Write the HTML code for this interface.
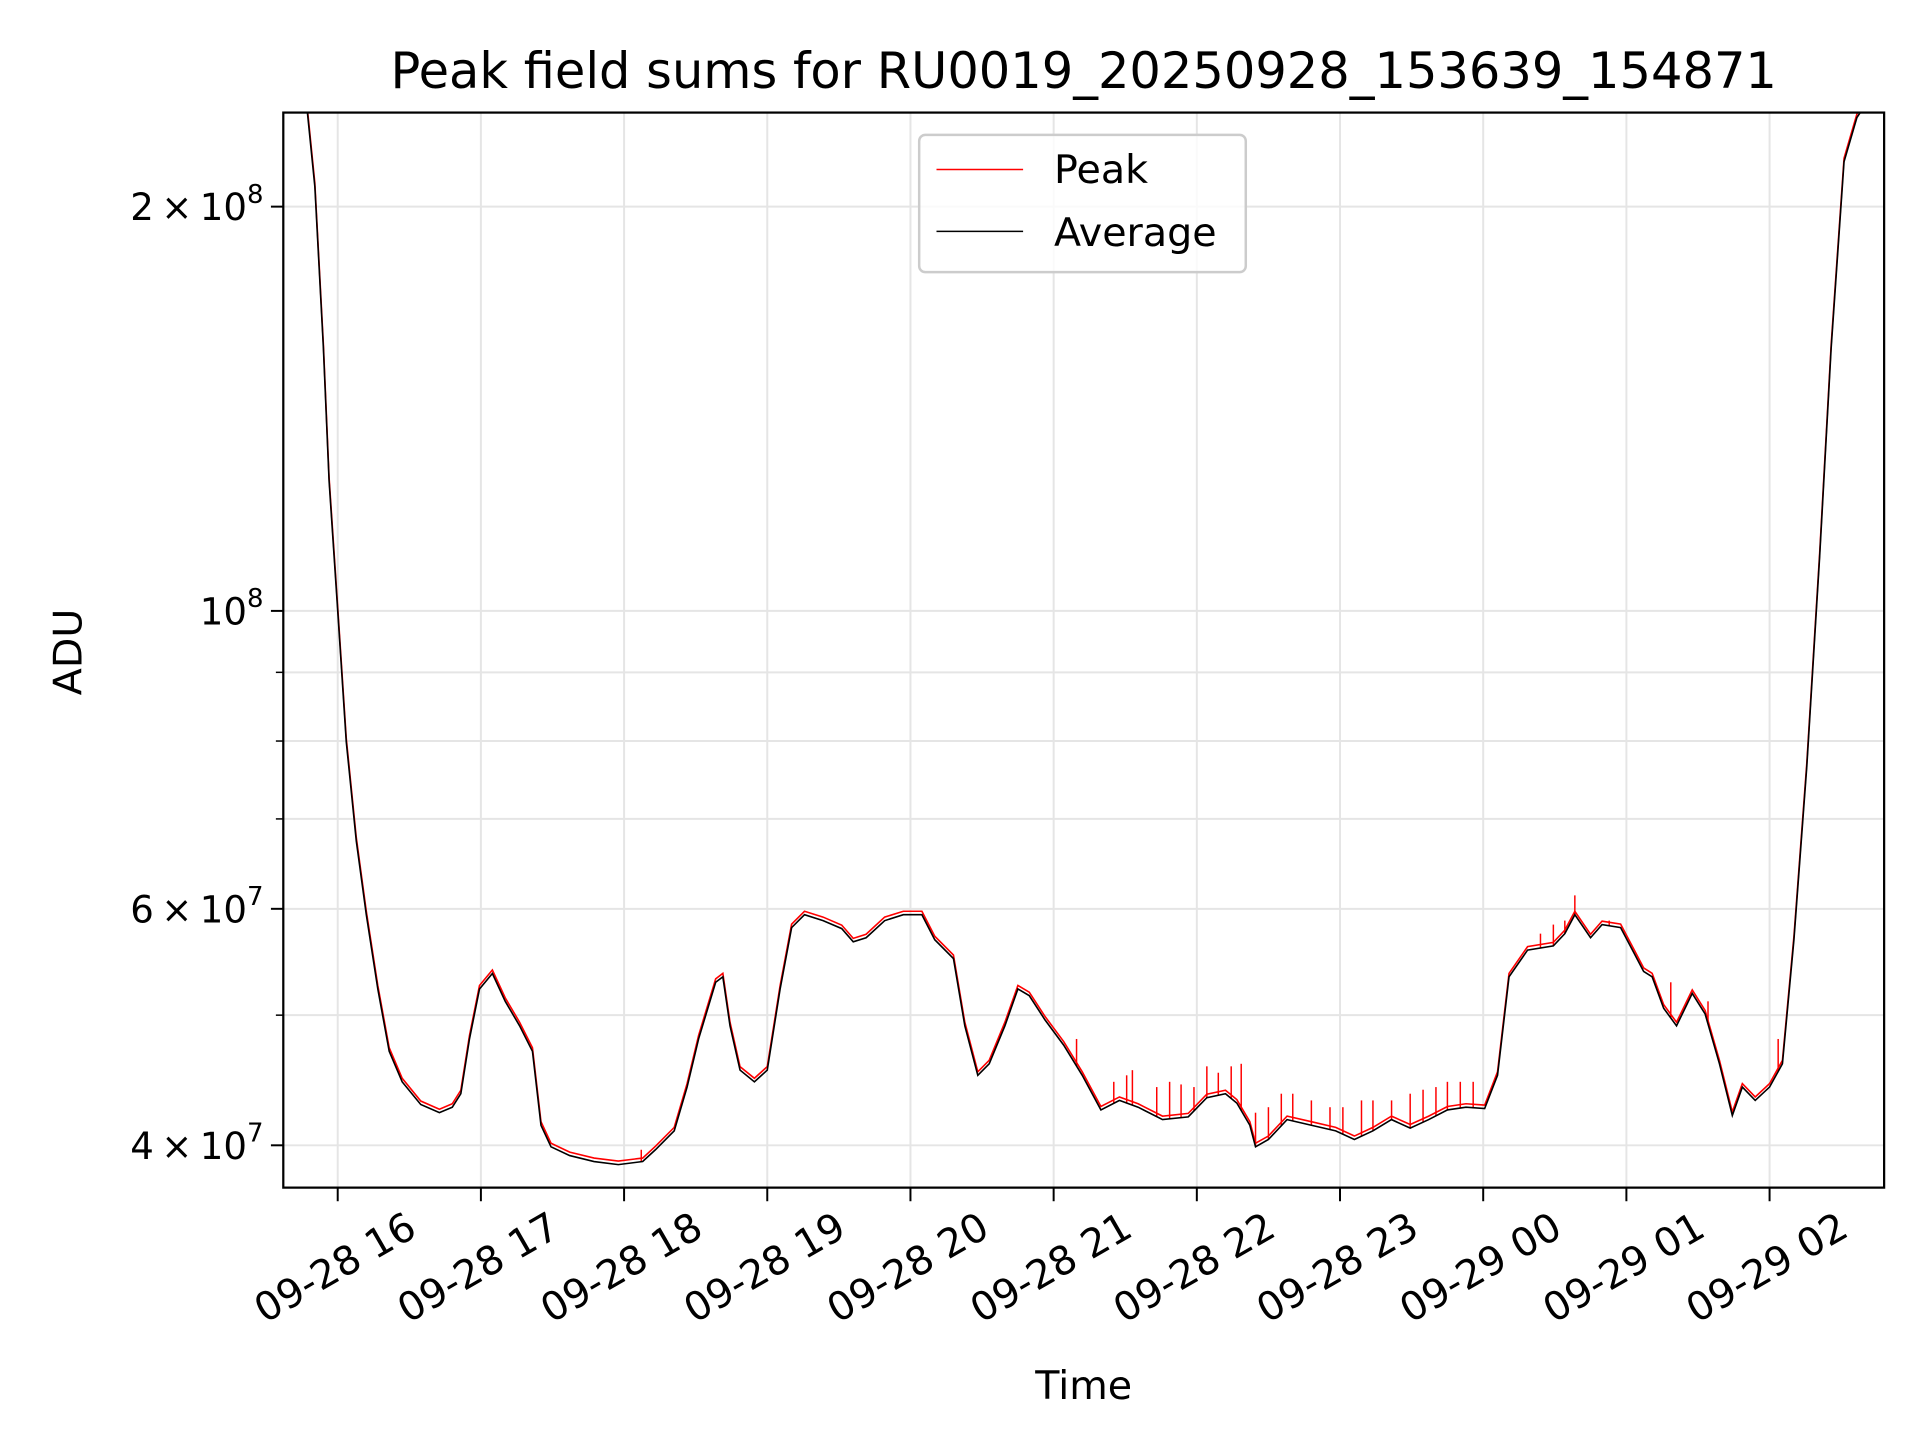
<!DOCTYPE html>
<html><head><meta charset="utf-8"><style>
html,body{margin:0;padding:0;background:#fff;}
svg{display:block;font-family:"DejaVu Sans","Liberation Sans",sans-serif;}
</style></head><body>
<svg id="chart" width="1920" height="1440" viewBox="0 0 1552 1164" xmlns="http://www.w3.org/2000/svg">
<rect x="0" y="0" width="1552" height="1164" fill="#fff"/>
<g id="grid"></g>
<g id="plot"></g>
<rect x="229" y="91" width="1294" height="869" fill="none" stroke="#000" stroke-width="1.8"/>
<g id="ticks"></g>
<text x="876" y="71" font-size="40" text-anchor="middle">Peak field sums for RU0019_20250928_153639_154871</text>
<text x="876" y="1131" font-size="32" text-anchor="middle">Time</text>
<text x="66" y="527" font-size="32" text-anchor="middle" transform="rotate(-90,66,527)">ADU</text>
<g>
<rect x="743" y="109" width="264" height="111" rx="5" fill="#fff" fill-opacity="0.8" stroke="#ccc" stroke-width="2"/>
<line x1="757" y1="137" x2="827" y2="137" stroke="#f00" stroke-width="1.2"/>
<text x="852" y="148" font-size="32">Peak</text>
<line x1="757" y1="187" x2="827" y2="187" stroke="#000" stroke-width="1.2"/>
<text x="852" y="199" font-size="32">Average</text>
</g>
</svg>
<script>
// hours since 2025-09-28 00:00; values in units of 1e7 ADU
const avgTimes = [15.62,15.78,15.84,15.90,15.94,16.00,16.06,16.13,16.20,16.28,16.36,16.45,16.58,16.71,16.80,16.86,16.92,16.99,17.08,17.17,17.27,17.36,17.42,17.49,17.62,17.79,17.96,18.13,18.22,18.35,18.44,18.52,18.64,18.69,18.74,18.81,18.91,19.00,19.09,19.17,19.26,19.39,19.52,19.60,19.69,19.82,19.95,20.08,20.17,20.30,20.38,20.47,20.55,20.66,20.75,20.83,20.94,21.07,21.20,21.33,21.46,21.59,21.76,21.94,22.07,22.20,22.28,22.37,22.41,22.50,22.63,22.80,22.97,23.10,23.23,23.36,23.49,23.62,23.75,23.88,24.01,24.10,24.18,24.31,24.49,24.57,24.64,24.75,24.83,24.96,25.05,25.12,25.18,25.26,25.35,25.46,25.55,25.65,25.74,25.81,25.90,26.00,26.09,26.17,26.26,26.35,26.43,26.52,26.61,26.69,26.80];
const avgValues = [24,24,20.7,15.7,12.5,10,7.99,6.74,5.94,5.23,4.70,4.46,4.29,4.23,4.27,4.37,4.80,5.23,5.37,5.12,4.91,4.70,4.14,3.99,3.93,3.89,3.87,3.89,3.97,4.10,4.42,4.80,5.29,5.34,4.91,4.55,4.46,4.55,5.23,5.81,5.94,5.88,5.80,5.67,5.71,5.88,5.94,5.94,5.69,5.51,4.91,4.51,4.60,4.91,5.23,5.17,4.96,4.75,4.51,4.25,4.32,4.27,4.18,4.20,4.34,4.37,4.30,4.14,3.99,4.04,4.18,4.14,4.10,4.04,4.10,4.18,4.12,4.18,4.25,4.27,4.26,4.51,5.34,5.59,5.63,5.75,5.94,5.71,5.84,5.81,5.57,5.39,5.34,5.06,4.91,5.19,5.01,4.60,4.21,4.42,4.32,4.42,4.60,5.69,7.66,10.98,15.7,21.6,23.3,24,24];
const spikeTimes = [18.12,21.16,21.42,21.51,21.55,21.72,21.81,21.89,21.98,22.07,22.15,22.24,22.31,22.41,22.50,22.59,22.67,22.80,22.93,23.02,23.15,23.23,23.36,23.49,23.58,23.67,23.75,23.84,23.93,24.40,24.49,24.57,24.64,24.88,25.31,25.57,26.06];
const spikeValues = [3.97,4.80,4.46,4.51,4.55,4.42,4.46,4.44,4.42,4.58,4.53,4.58,4.60,4.23,4.27,4.37,4.37,4.32,4.27,4.27,4.32,4.32,4.32,4.37,4.40,4.42,4.46,4.46,4.46,5.75,5.84,5.88,6.14,5.88,5.29,5.12,4.80];
const xTickHours = [16,17,18,19,20,21,22,23,24,25,26];
const xTickLabels = ["09-28 16","09-28 17","09-28 18","09-28 19","09-28 20","09-28 21","09-28 22","09-28 23","09-29 00","09-29 01","09-29 02"];
const yMajorVals = [4,6,10,20];
const yMajorMant = ["4","6","","2"];
const yMajorExp = ["7","7","8","8"];
const yMinorVals = [5,7,8,9];

const X0=229,X1=1523,Y0=91,Y1=960;
const tMin=15.62, tMax=26.80;
const vLo=3.72, vHi=23.5;
function xs(t){return X0+(t-tMin)/(tMax-tMin)*(X1-X0);}
function ys(v){return Y1-(Math.log10(v)-Math.log10(vLo))/(Math.log10(vHi)-Math.log10(vLo))*(Y1-Y0);}
function interp(t){for(let i=1;i<avgTimes.length;i++){if(avgTimes[i]>=t){const a=avgTimes[i-1],b=avgTimes[i];const f=(t-a)/(b-a||1);return avgValues[i-1]+f*(avgValues[i]-avgValues[i-1]);}}return avgValues[avgValues.length-1];}
const NS="http://www.w3.org/2000/svg";
function mk(tag,attrs,parent){const e=document.createElementNS(NS,tag);for(const k in attrs)e.setAttribute(k,attrs[k]);parent.appendChild(e);return e;}
const grid=document.getElementById('grid'),plot=document.getElementById('plot'),ticks=document.getElementById('ticks');

xTickHours.forEach((h,i)=>{
  const x=xs(h);
  const g=mk('line',{x1:x,y1:Y0,x2:x,y2:Y1,stroke:'#e5e5e5','stroke-width':1.6},grid);
  
  
  const t=mk('line',{x1:x,y1:Y1,x2:x,y2:Y1+11,stroke:'#000','stroke-width':1.6},ticks);
  
  
  const tx=x-2, ty=1025;
  const lab=mk('text',{x:tx,y:ty,'font-size':32,'text-anchor':'middle','dominant-baseline':'central',transform:'rotate(-30,'+tx+','+ty+')'},ticks);
  lab.textContent=xTickLabels[i];
  
  
});
yMinorVals.forEach(v=>{
  const y=ys(v);
  const g=mk('line',{x1:X0,y1:y,x2:X1,y2:y,stroke:'#e5e5e5','stroke-width':1.6},grid);
  
  
  const t=mk('line',{x1:X0-6,y1:y,x2:X0,y2:y,stroke:'#000','stroke-width':1.2},ticks);
  
  
});
yMajorVals.forEach((v,i)=>{
  const y=ys(v);
  const g=mk('line',{x1:X0,y1:y,x2:X1,y2:y,stroke:'#e5e5e5','stroke-width':1.6},grid);
  
  
  const t=mk('line',{x1:X0-10,y1:y,x2:X0,y2:y,stroke:'#000','stroke-width':1.6},ticks);
  
  
  const lab=mk('text',{x:X0-16,y:y+11,'font-size':30,'text-anchor':'end'},ticks);
  
  
  let s=yMajorMant[i]?yMajorMant[i]+'\u2009\u00d7\u2009':'';
  lab.innerHTML=s+'10<tspan dy="-14" font-size="21">'+yMajorExp[i]+'</tspan>';
});

const clip=mk('clipPath',{id:'clipA'},plot);
mk('rect',{x:X0,y:Y0,width:X1-X0,height:Y1-Y0},clip);
const pg=mk('g',{'clip-path':'url(#clipA)'},plot);
let pd='';
avgTimes.forEach((t,i)=>{pd+=(i?'L':'M')+xs(t).toFixed(1)+','+ys(avgValues[i]*1.006).toFixed(1);});
const peak=mk('path',{d:pd,fill:'none',stroke:'#f00','stroke-width':1.3},pg);


spikeTimes.forEach((t,i)=>{
  const x=xs(t);
  const s=mk('line',{x1:x,y1:ys(interp(t)),x2:x,y2:ys(spikeValues[i]),stroke:'#f00','stroke-width':1.2},pg);
  
  
});
let ad='';
avgTimes.forEach((t,i)=>{ad+=(i?'L':'M')+xs(t).toFixed(1)+','+ys(avgValues[i]).toFixed(1);});
const avg=mk('path',{d:ad,fill:'none',stroke:'#000','stroke-width':1.3},pg);


</script>
</body></html>
